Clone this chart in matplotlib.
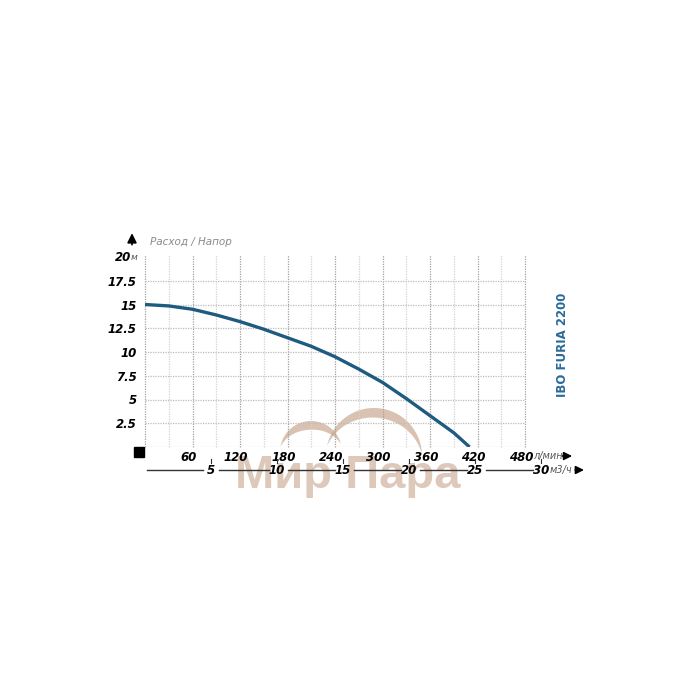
import numpy as np
import matplotlib
matplotlib.use("Agg")
import matplotlib.pyplot as plt
from matplotlib.patches import Polygon
import matplotlib.transforms as mtransforms

# Данные кривой (расход л/мин -> напор м)
flow = [0, 30, 60, 90, 120, 150, 180, 210, 240, 270, 300, 330, 360, 390, 410]
head = [15, 14.85, 14.5, 13.9, 13.2, 12.4, 11.5, 10.6, 9.5, 8.2, 6.8, 5.1, 3.3, 1.5, 0]

x_ticks = [60, 120, 180, 240, 300, 360, 420, 480]
y_ticks = [2.5, 5, 7.5, 10, 12.5, 15, 17.5, 20]
y_labels = ["2.5", "5", "7.5", "10", "12.5", "15", "17.5", ""]
m3h_ticks = [5, 10, 15, 20, 25, 30]

title = "IBO FURIA 2200"
curve_color = "#1f5a80"
bold_it = dict(fontweight="bold", fontstyle="italic", family="DejaVu Sans")
fs = 8.5

fig = plt.figure(figsize=(7, 7), dpi=100)

# слой для водяного знака (пиксельные координаты)
bg = fig.add_axes([0, 0, 1, 1], zorder=0)
bg.set_xlim(0, 700)
bg.set_ylim(700, 0)
bg.axis("off")
wm = "#c9a990"


def crescent(cx, cy, a, b, t1, t2, w):
    t = np.linspace(np.radians(t1), np.radians(t2), 60)
    outer = np.c_[cx + a * np.cos(t), cy + b * np.sin(t)]
    k = 1 - w * np.sin(np.pi * (t - t[0]) / (t[-1] - t[0]))
    inner = np.c_[cx + a * k * np.cos(t), cy + b * k * np.sin(t)][::-1]
    return Polygon(np.r_[outer, inner], closed=True, color=wm, alpha=0.7, lw=0)


bg.add_patch(crescent(311, 452, 31, 31, 190, 345, 0.28))
bg.add_patch(crescent(374, 456, 48, 48, 192, 358, 0.2))
bg.text(348, 476, "Мир Пара", fontsize=34, fontweight="bold", color="#d2b6a2", alpha=0.75,
        ha="center", va="center", family="Liberation Sans")

ax = fig.add_axes([145 / 700, 1 - 447 / 700, 380 / 700, 190 / 700], zorder=1)
ax.patch.set_alpha(0)
ax.set_xlim(0, 480)
ax.set_ylim(0, 20)

# сетка
for v in np.arange(0, 481, 30):
    dark = v % 60 == 0
    ax.axvline(v, ymax=1.01, color="#a0a0a0" if dark else "#d2d2d2", lw=0.9,
               ls=(0, (1, 1)), zorder=1, clip_on=False)
for h in np.arange(0, 20, 2.5):
    ax.axhline(h, color="#bdbdbd", lw=0.9, ls=(0, (1, 1)), zorder=1)

ax.plot(flow, head, color=curve_color, lw=2.4, zorder=3, solid_capstyle="butt")

for s in ax.spines.values():
    s.set_visible(False)
ax.set_xticks(x_ticks)
ax.set_xticklabels([str(v) for v in x_ticks], **bold_it, fontsize=fs)
ax.set_yticks(y_ticks)
ax.set_yticklabels(y_labels, **bold_it, fontsize=fs)
ax.tick_params(length=0, pad=3)
ax.tick_params(axis="y", pad=6)
shift = mtransforms.ScaledTranslation(-4 / 100, 0, fig.dpi_scale_trans)
for lab in ax.get_xticklabels():
    lab.set_transform(lab.get_transform() + shift)

ax.text(-14 / 380, 1.0, "20", transform=ax.transAxes, ha="right", va="center",
        **bold_it, fontsize=fs)
ax.text(-14 / 380, 0.995, "м", transform=ax.transAxes, ha="left", va="center",
        fontsize=6.5, fontstyle="italic", color="#555555")

# стрелка вверх и подпись
ax.annotate("", xy=(-13 / 380, 1.14), xytext=(-13 / 380, 1.05), xycoords="axes fraction",
            annotation_clip=False,
            arrowprops=dict(arrowstyle="-|>", color="black", lw=1.2, mutation_scale=14))
ax.text(5 / 380, 1.08, "Расход / Напор", transform=ax.transAxes, ha="left", va="center",
        fontsize=7.5, fontstyle="italic", color="#8a8a8a")

# черный квадрат
ax.plot([-8], [-0.5], marker="s", color="black", ms=7, clip_on=False)

# единицы и стрелки
ax.text(490, -0.95, "л/мин", ha="left", va="center", fontsize=7, fontstyle="italic",
        color="#555555", clip_on=False)
ax.annotate("", xy=(543, -0.95), xytext=(524, -0.95), xycoords="data",
            annotation_clip=False,
            arrowprops=dict(arrowstyle="-|>", color="black", lw=1.2, mutation_scale=12))

# вторая шкала м3/ч
trans = mtransforms.blended_transform_factory(ax.transData, ax.transAxes)
ly = -23 / 190
xs = [q * 1000 / 60 for q in m3h_ticks]
prev = 2
for q, x in zip(m3h_ticks, xs):
    ax.plot([prev, x - 10], [ly, ly], color="#333333", lw=1, transform=trans, clip_on=False)
    ax.text(x, ly, str(q), ha="center", va="center", transform=trans, **bold_it, fontsize=fs)
    ax.plot([x, x], [ly + 0.035, ly + 0.06], color="#333333", lw=0.8, transform=trans, clip_on=False)
    prev = x + 10 if q < 10 else x + 14
ax.text(xs[-1] + 11, ly, "м3/ч", ha="left", va="center", transform=trans, fontsize=7,
        fontstyle="italic", color="#555555")
ax.annotate("", xy=(558, ly), xytext=(540, ly), xycoords=trans, annotation_clip=False,
            arrowprops=dict(arrowstyle="-|>", color="black", lw=1.2, mutation_scale=12))

fig.text(563 / 700, 1 - 345 / 700, title, rotation=90, ha="center", va="center",
         fontsize=8.5, fontweight="bold", color="#2a6a9a", family="DejaVu Sans")

fig.savefig("out.png", dpi=100)
